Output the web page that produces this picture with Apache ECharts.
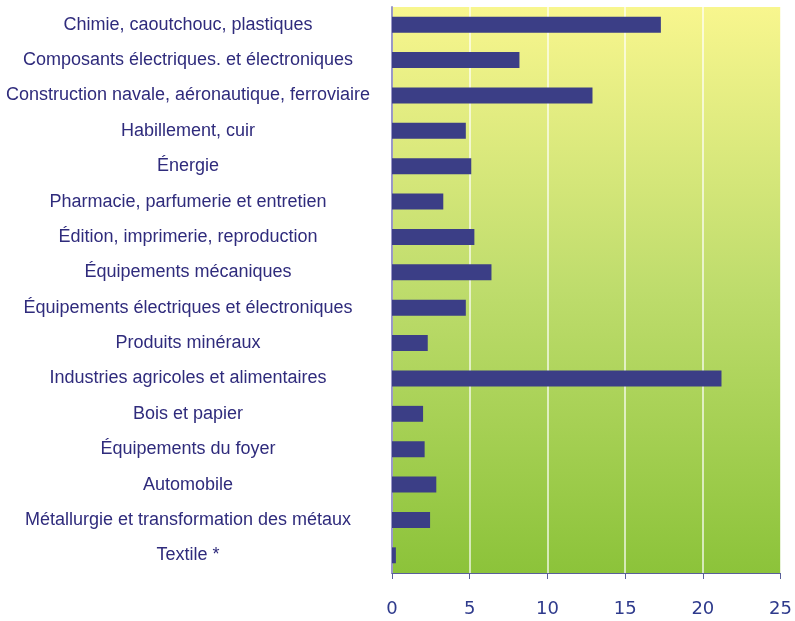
<!DOCTYPE html>
<html>
<head>
<meta charset="utf-8">
<script src="https://cdn.jsdelivr.net/npm/echarts@6/dist/echarts.min.js"></script>
<style>
  html, body { margin: 0; padding: 0; background: #fff; }
  #main { width: 795px; height: 621px; }
</style>
</head>
<body>
<div id="main"></div>
<script>
const categories = [
  "Chimie, caoutchouc, plastiques",
  "Composants électriques. et électroniques",
  "Construction navale, aéronautique, ferroviaire",
  "Habillement, cuir",
  "Énergie",
  "Pharmacie, parfumerie et entretien",
  "Édition, imprimerie, reproduction",
  "Équipements mécaniques",
  "Équipements électriques et électroniques",
  "Produits minéraux",
  "Industries agricoles et alimentaires",
  "Bois et papier",
  "Équipements du foyer",
  "Automobile",
  "Métallurgie et transformation des métaux",
  "Textile *"
];
const values = [17.3, 8.2, 12.9, 4.75, 5.1, 3.3, 5.3, 6.4, 4.75, 2.3, 21.2, 2.0, 2.1, 2.85, 2.45, 0.25];
const xTicks = [0, 25, 5]; // min, max, interval

const textColor = "#2f2b7c";
const chart = echarts.init(document.getElementById("main"));

chart.setOption({
  animation: false,
  grid: {
    left: 392, right: 11, top: 7, bottom: 48,
    show: true,
    borderWidth: 0,
    backgroundColor: new echarts.graphic.LinearGradient(0, 0, 0, 1, [
      { offset: 0, color: "#f8f68e" },
      { offset: 0.5, color: "#bedc6c" },
      { offset: 1, color: "#8cc33a" }
    ])
  },
  xAxis: {
    type: "value",
    min: xTicks[0],
    max: xTicks[1],
    interval: xTicks[2],
    axisLine: { show: true, lineStyle: { color: "#5a5f9a", width: 1 } },
    axisTick: { show: true, length: 6, lineStyle: { color: "#5a5f9a" } },
    axisLabel: {
      color: "#2e3a8c",
      fontSize: 18,
      fontFamily: "DejaVu Sans",
      margin: 27
    },
    splitLine: { show: true, lineStyle: { color: "rgba(255,255,255,0.85)", width: 1.5 } }
  },
  yAxis: {
    type: "category",
    data: categories,
    inverse: true,
    axisLine: { show: true, lineStyle: { color: "#9a98c8", width: 2 } },
    axisTick: { show: false },
    axisLabel: {
      color: textColor,
      fontSize: 18,
      fontFamily: "Liberation Sans",
      align: "center",
      margin: 204
    }
  },
  series: [
    {
      type: "bar",
      data: values,
      barWidth: "45%",
      itemStyle: { color: "#3b3e86" }
    }
  ]
});
</script>
</body>
</html>
